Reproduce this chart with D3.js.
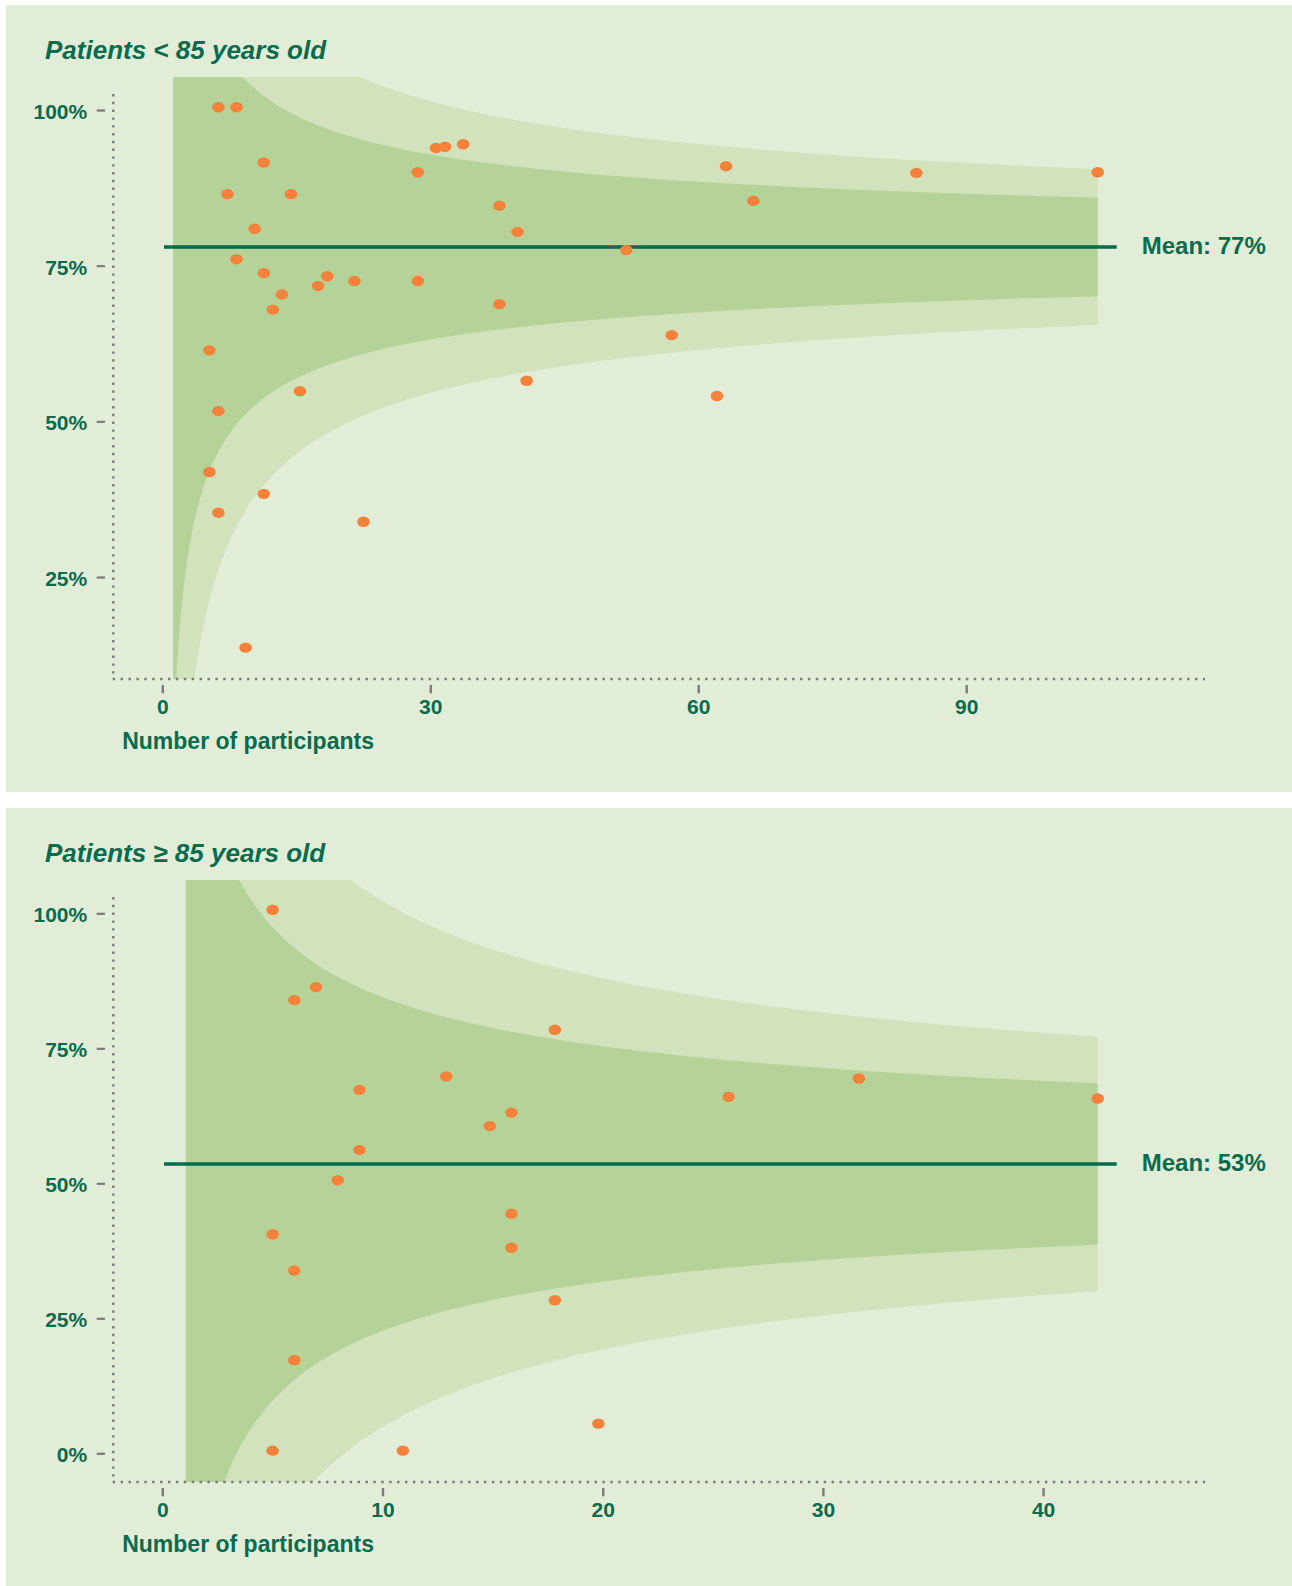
<!DOCTYPE html>
<html>
<head>
<meta charset="utf-8">
<script src="https://cdn.jsdelivr.net/npm/d3@7"></script>
<style>
  html, body { margin: 0; padding: 0; background: #ffffff; }
  svg { display: block; font-family: "Liberation Sans", Arial, Helvetica, sans-serif; }
</style>
</head>
<body>
<svg id="chart" width="1292" height="1586"></svg>
<script>
// Patients under 85: participants per study and share reaching the target (%)
const under85Participants = [6, 8, 11, 7, 14, 10, 8, 11, 13, 12, 5, 6, 5, 6, 11, 15, 9, 22,
  28, 30, 31, 33, 28, 17, 18, 21, 37, 39, 51, 37, 56, 40, 61, 62, 65, 83, 103];
const under85Rate = [100, 100, 90.9, 85.7, 85.7, 80, 75, 72.7, 69.2, 66.7, 60, 50, 40, 33.3, 36.4, 53.3, 11.1, 31.8,
  89.3, 93.3, 93.5, 93.9, 71.4, 70.6, 72.2, 71.4, 83.8, 79.5, 76.5, 67.6, 62.5, 55, 52.5, 90.3, 84.6, 89.2, 89.3];

// Patients 85 and over
const over85Participants = [5, 7, 6, 13, 9, 9, 8, 5, 6, 6, 5, 11, 15, 16, 18, 26, 16, 16, 18, 20, 32, 43];
const over85Rate = [100, 85.7, 83.3, 69.2, 66.7, 55.6, 50, 40, 33.3, 16.7, 0, 0, 60, 62.5, 77.8, 65.4, 43.8, 37.5,
  27.8, 5, 68.8, 65.1];

const meanRates = [77, 53];
const panelTitles = ["Patients < 85 years old", "Patients \u2265 85 years old"];
const yTickValues = [[25, 50, 75, 100], [0, 25, 50, 75, 100]];
const xTickValues = [[0, 30, 60, 90], [0, 10, 20, 30, 40]];
const xAxisTitle = "Number of participants";

// Control-limit multipliers: inner band ~95%, outer band ~99.8%
const Z_INNER = 1.96, Z_OUTER = 3.09;

const COLORS = {
  panel: "#e1edd7",
  outer: "#d2e2bc",
  inner: "#b5d398",
  mean: "#006b4e",
  text: "#0b6b4f",
  axis: "#7b7b7b",
  dot: "#f5813b"
};

// Layout of each panel (page coordinates)
const panels = [
  {
    top: 5, height: 787,
    n: under85Participants, rate: under85Rate, mean: meanRates[0],
    title: panelTitles[0], yTicks: yTickValues[0], xTicks: xTickValues[0],
    yDomain: [5.94, 104.97], yAxisDomain: [8.62, 105.3],
    xAxisDomain: [0, 90], xAxisRange: [162.3, 966.2]
  },
  {
    top: 808, height: 778,
    n: over85Participants, rate: over85Rate, mean: meanRates[1],
    title: panelTitles[1], yTicks: yTickValues[1], xTicks: xTickValues[1],
    yDomain: [-5.8, 105.5], yAxisDomain: [-5.31, 106.17],
    xAxisDomain: [0, 40], xAxisRange: [162.3, 1043.1]
  }
];

const svg = d3.select("#chart");
const PLOT_TOP = 72, PLOT_BOTTOM = 674;
const X_LEFT = 164, X_RIGHT = 1097.7;

panels.forEach((p, i) => {
  const g = svg.append("g").attr("transform", `translate(0,${p.top})`);

  g.append("rect")
    .attr("x", 6).attr("y", 0)
    .attr("width", 1292 - 6).attr("height", p.height)
    .attr("fill", COLORS.panel);

  const nMax = d3.max(p.n);
  const x = d3.scaleLinear().domain([0, nMax]).range([X_LEFT, X_RIGHT]);
  const y = d3.scaleLinear().domain(p.yDomain).range([PLOT_BOTTOM, PLOT_TOP]);
  const xAxisScale = d3.scaleLinear().domain(p.xAxisDomain).range(p.xAxisRange);
  const yAxisScale = d3.scaleLinear().domain(p.yAxisDomain).range([PLOT_BOTTOM, PLOT_TOP]);

  // Funnel limits around the mean: mean ± z·√(p(1−p)/n)
  const clipId = `plot-clip-${i}`;
  g.append("clipPath").attr("id", clipId)
    .append("rect")
    .attr("x", 0).attr("y", PLOT_TOP)
    .attr("width", 1292).attr("height", PLOT_BOTTOM - PLOT_TOP);

  const m = p.mean / 100;
  const ns = d3.range(1, nMax, 0.05).concat([nMax]);
  const limit = (n, z, sign) => (m + sign * z * Math.sqrt(m * (1 - m) / n)) * 100;
  const band = z => d3.area()
    .x(n => x(n))
    .y0(n => y(limit(n, z, -1)))
    .y1(n => y(limit(n, z, 1)));

  const funnel = g.append("g").attr("clip-path", `url(#${clipId})`);
  funnel.append("path").datum(ns).attr("d", band(Z_OUTER)).attr("fill", COLORS.outer);
  funnel.append("path").datum(ns).attr("d", band(Z_INNER)).attr("fill", COLORS.inner);

  // Dotted axis lines
  g.append("line")
    .attr("x1", 112.7).attr("x2", 1205)
    .attr("y1", PLOT_BOTTOM).attr("y2", PLOT_BOTTOM)
    .attr("stroke", COLORS.axis).attr("stroke-width", 2.4)
    .attr("stroke-dasharray", "2.4 5.5");
  g.append("line")
    .attr("x1", 113.3).attr("x2", 113.3)
    .attr("y1", PLOT_TOP + 17).attr("y2", PLOT_BOTTOM)
    .attr("stroke", COLORS.axis).attr("stroke-width", 2.4)
    .attr("stroke-dasharray", "2.4 5.4");

  // Y axis
  const yAxis = g.append("g")
    .attr("transform", "translate(105,0)")
    .call(d3.axisLeft(yAxisScale).tickValues(p.yTicks).tickSize(8.3).tickPadding(9.5)
      .tickFormat(d => d + "%"));
  yAxis.select(".domain").remove();
  yAxis.selectAll(".tick line").attr("stroke", COLORS.axis).attr("stroke-width", 2.2);
  yAxis.selectAll(".tick text")
    .attr("dy", "0.4em")
    .attr("fill", COLORS.text)
    .style("font-size", "21px").style("font-weight", "bold")
    .style("font-family", "\"Liberation Sans\", Arial, sans-serif");

  // X axis
  const xAxis = g.append("g")
    .attr("transform", `translate(0,${PLOT_BOTTOM + 6})`)
    .call(d3.axisBottom(xAxisScale).tickValues(p.xTicks).tickSize(8.3).tickPadding(5.8));
  xAxis.select(".domain").remove();
  xAxis.selectAll(".tick line").attr("stroke", COLORS.axis).attr("stroke-width", 2.4);
  xAxis.selectAll(".tick text")
    .attr("fill", COLORS.text)
    .style("font-size", "21px").style("font-weight", "bold")
    .style("font-family", "\"Liberation Sans\", Arial, sans-serif");

  g.append("text")
    .attr("x", 122.2).attr("y", PLOT_BOTTOM + 70)
    .attr("fill", COLORS.text)
    .style("font-size", "23px").style("font-weight", "bold")
    .text(xAxisTitle);

  // Mean line and label
  g.append("line")
    .attr("x1", x(0)).attr("x2", x(nMax) + 19)
    .attr("y1", y(p.mean)).attr("y2", y(p.mean))
    .attr("stroke", COLORS.mean).attr("stroke-width", 3.6);
  g.append("text")
    .attr("x", x(nMax) + 44).attr("y", y(p.mean) + 7)
    .attr("fill", COLORS.text)
    .style("font-size", "24px").style("font-weight", "bold")
    .text(`Mean: ${p.mean}%`);

  // Studies
  const studies = p.n.map((n, k) => ({ n, rate: p.rate[k] }));
  g.append("g").selectAll("ellipse")
    .data(studies)
    .join("ellipse")
    .attr("cx", d => x(d.n))
    .attr("cy", d => y(d.rate))
    .attr("rx", 6.3).attr("ry", 5.2)
    .attr("fill", COLORS.dot);

  // Panel title
  g.append("text")
    .attr("x", 45).attr("y", 54.2)
    .attr("fill", COLORS.text)
    .style("font-size", "26px").style("font-weight", "bold").style("font-style", "italic")
    .text(p.title);
});
</script>
</body>
</html>
